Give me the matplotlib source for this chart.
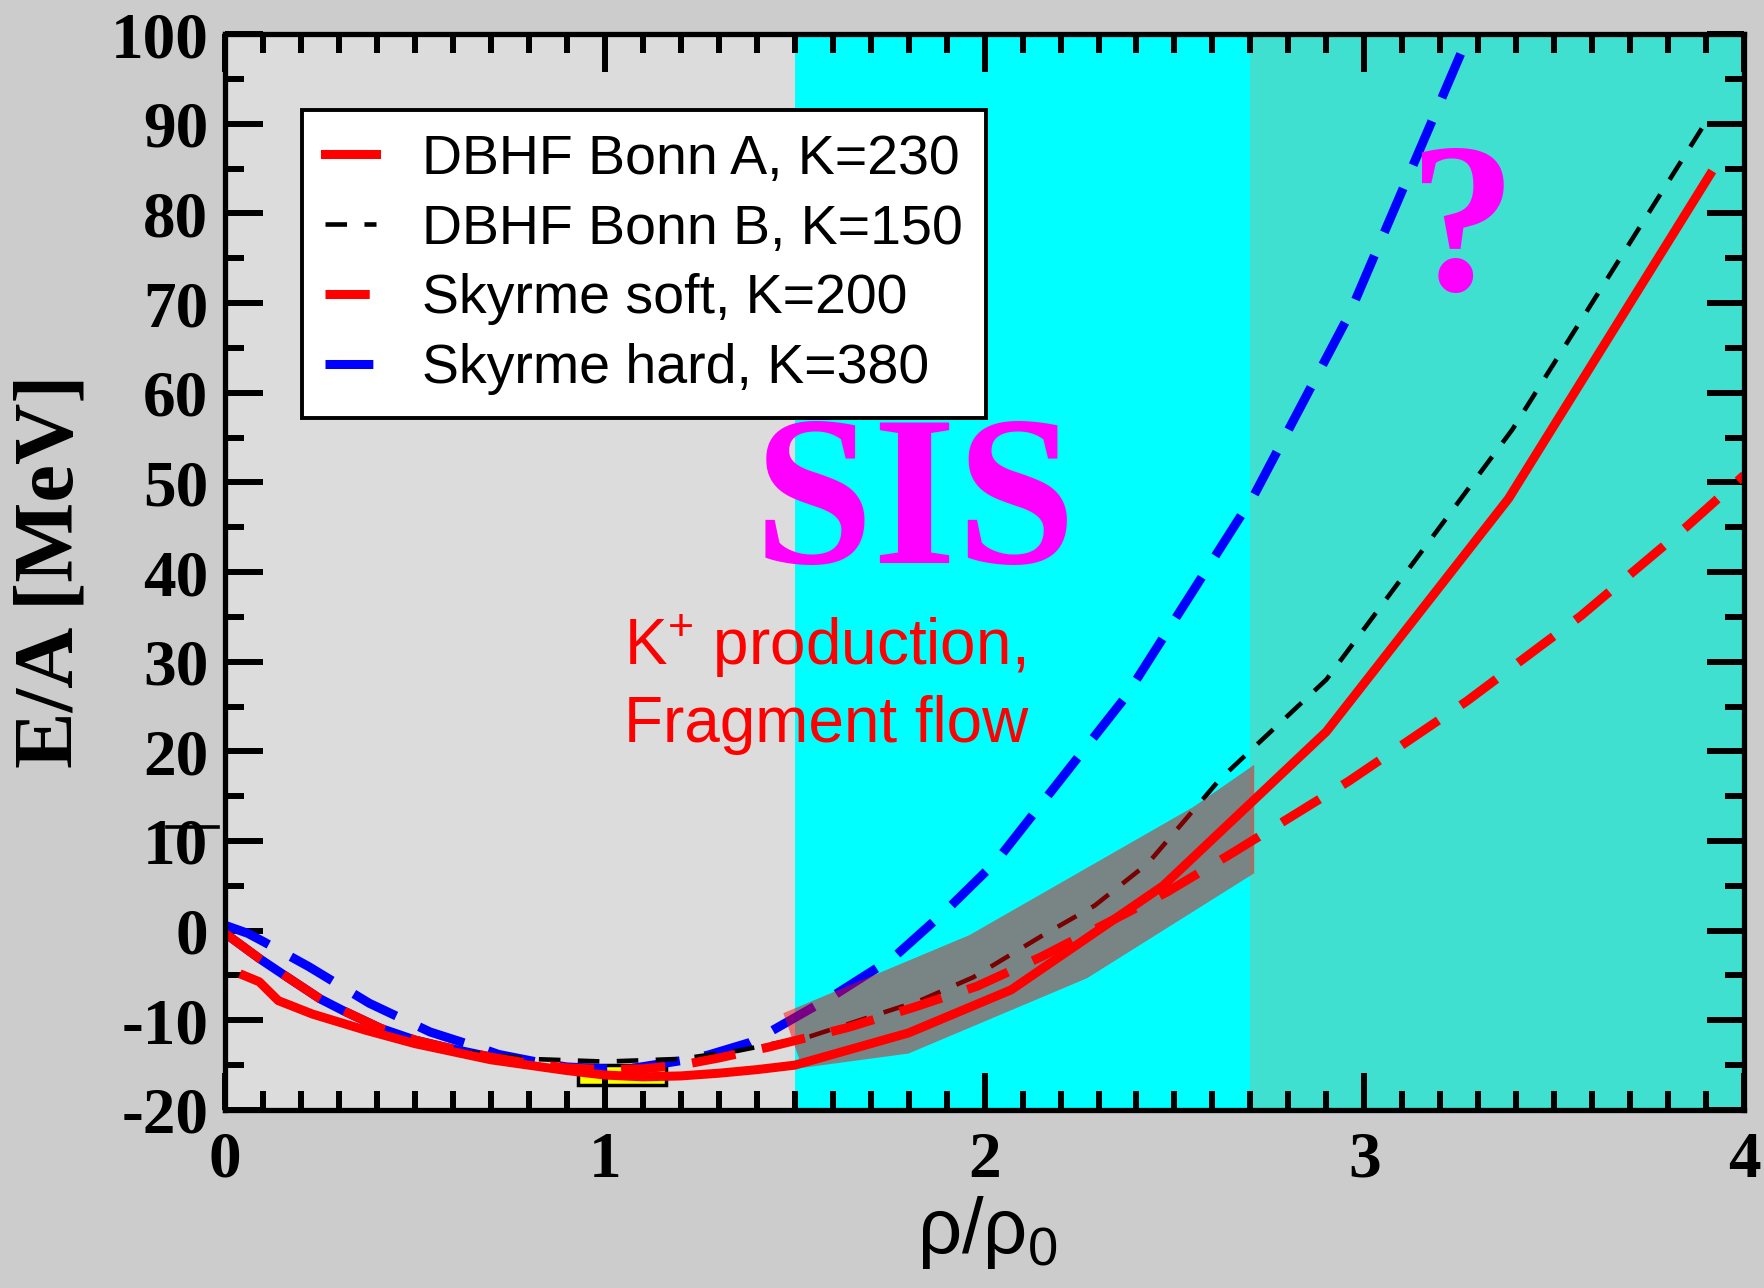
import numpy as np
import matplotlib
matplotlib.use("Agg")
import matplotlib.pyplot as plt
from matplotlib.patches import Rectangle
from matplotlib.lines import Line2D
from matplotlib.ticker import MultipleLocator

# Equation of state of nuclear matter, E/A vs rho/rho0
bonn_a_rho = [0.05, 0.09, 0.14, 0.23, 0.37, 0.5, 0.6, 0.7, 0.8, 0.9, 1.0, 1.1, 1.2, 1.3,
              1.4, 1.5, 1.8, 2.07, 2.47, 2.9, 3.38, 3.91]
bonn_a_ea = [-5.0, -5.7, -7.8, -9.3, -11.1, -12.6, -13.5, -14.4, -15.0, -15.6, -16.1, -16.3,
             -16.2, -15.9, -15.5, -15.0, -11.4, -6.6, 5.0, 22.2, 48.2, 84.3]

bonn_b_rho = [0.05, 0.09, 0.14, 0.23, 0.37, 0.5, 0.6, 0.8, 1.0, 1.2, 1.35, 1.54, 1.83, 1.97,
              2.15, 2.29, 2.43, 2.62, 2.9, 3.39, 3.91]
bonn_b_ea = [-5.0, -5.7, -7.8, -9.3, -11.1, -12.6, -13.4, -14.3, -14.6, -14.3, -13.4, -11.8,
             -7.8, -5.2, -0.6, 2.8, 7.5, 16.9, 28.0, 55.9, 90.9]

soft_rho = [0.0, 0.09, 0.15, 0.25, 0.31, 0.41, 0.5, 0.6, 0.7, 0.8, 0.9, 1.0, 1.1, 1.2, 1.3,
            1.43, 1.64, 1.81, 1.98, 2.15, 2.32, 2.48, 2.65, 2.96, 3.27, 3.57, 3.85, 4.0]
soft_ea = [-0.3, -3.1, -4.8, -7.6, -8.9, -10.9, -12.2, -13.2, -14.1, -14.8, -15.3, -15.5,
           -15.4, -15.0, -14.2, -13.0, -10.8, -8.6, -6.2, -2.9, 0.8, 4.3, 8.6, 16.7, 25.6,
           35.1, 45.1, 50.8]

hard_rho = [0.0, 0.06, 0.1, 0.22, 0.38, 0.54, 0.68, 0.72, 0.84, 0.9, 1.0, 1.08, 1.2, 1.27,
            1.38, 1.43, 1.6, 1.76, 1.9, 2.03, 2.37, 2.71, 2.96, 3.26]
hard_ea = [0.6, -0.3, -1.2, -4.0, -8.1, -11.3, -13.2, -13.8, -14.8, -15.2, -15.4, -15.3,
           -14.5, -13.9, -12.5, -11.4, -7.3, -3.0, 2.3, 7.7, 26.0, 48.6, 68.7, 98.4]

labels = ["DBHF Bonn A, K=230", "DBHF Bonn B, K=150",
          "Skyrme soft, K=200", "Skyrme hard, K=380"]

# constraint band from K+ production / fragment flow
band_up_rho = [1.47, 1.96, 2.55, 2.71]
band_up_ea = [-9.2, -0.5, 13.8, 18.5]
band_lo_rho = [1.52, 1.80, 2.27, 2.71]
band_lo_ea = [-15.3, -13.7, -5.3, 6.4]

# saturation point box
sat_rho = [0.93, 1.16]
sat_ea = [-17.2, -15.0]

# density regions
region_edges = [0.0, 1.5, 2.7, 4.0]

plt.rcParams["axes.unicode_minus"] = False
plt.rcParams["mathtext.fontset"] = "custom"
plt.rcParams["mathtext.rm"] = "Liberation Sans"
plt.rcParams["mathtext.it"] = "Liberation Sans:italic"

fig = plt.figure(figsize=(17.64, 12.88), dpi=100, facecolor="#cccccc")
ax = fig.add_axes([0.1276, 0.1382, 0.8611, 0.8354])
ax.set_facecolor("#dcdcdc")

region_colors = ["#dcdcdc", "#00ffff", "#40e0d0"]
for i in range(3):
    ax.axvspan(region_edges[i], region_edges[i + 1], color=region_colors[i], lw=0, zorder=0)

ax.add_patch(Rectangle((sat_rho[0], sat_ea[0]), sat_rho[1] - sat_rho[0], sat_ea[1] - sat_ea[0],
                       facecolor="yellow", edgecolor="black", lw=2.5, zorder=1))

# blue shows through the gaps of the soft Skyrme curve at low density
n_low = sum(1 for r in soft_rho if r <= 0.7)
ax.plot(soft_rho[:n_low], soft_ea[:n_low], color="blue", lw=6.5, zorder=2)

l_hard, = ax.plot(hard_rho, hard_ea, color="blue", lw=6.5, dashes=(5.3, 2.8), zorder=2)
l_b, = ax.plot(bonn_b_rho, bonn_b_ea, color="black", lw=3.3, dashes=(4.7, 3.8), zorder=2)

band_x = band_up_rho + band_lo_rho[::-1]
band_y = band_up_ea + band_lo_ea[::-1]
ax.fill(band_x, band_y, color="red", alpha=0.48, lw=0, zorder=3)

l_a, = ax.plot(bonn_a_rho, bonn_a_ea, color="red", lw=6.5, zorder=4)
l_soft, = ax.plot(soft_rho, soft_ea, color="red", lw=6.5, dashes=(4.9, 3.0), zorder=4)

ax.set_xlim(0, 4)
ax.set_ylim(-20, 100)
ax.xaxis.set_major_locator(MultipleLocator(1))
ax.xaxis.set_minor_locator(MultipleLocator(0.1))
ax.yaxis.set_major_locator(MultipleLocator(10))
ax.yaxis.set_minor_locator(MultipleLocator(5))
ax.tick_params(which="both", direction="in", top=True, right=True, width=4.3, color="black")
ax.tick_params(which="major", length=27)
ax.tick_params(which="minor", length=14)
ax.tick_params(axis="x", which="major", pad=15, labelsize=47)
ax.tick_params(axis="y", which="major", pad=12, labelsize=47)
for lbl in ax.get_xticklabels() + ax.get_yticklabels():
    lbl.set_fontfamily("Liberation Serif")
    lbl.set_fontweight("bold")
for sp in ax.spines.values():
    sp.set_linewidth(3.8)
    sp.set_zorder(7)

ax.text(1.817, 41.0, "SIS", family="Liberation Serif", weight="bold", fontsize=155,
        color="magenta", ha="center", va="baseline", zorder=5)
ax.text(3.26, 71.4, "?", family="Liberation Serif", weight="bold", fontsize=155,
        color="magenta", ha="center", va="baseline", zorder=5)
ax.text(1.05, 29.6, "K$^{+}$ production,", family="Liberation Sans", fontsize=46,
        color="red", ha="left", va="baseline", zorder=5)
ax.text(1.05, 21.05, "Fragment flow", family="Liberation Sans", fontsize=46,
        color="red", ha="left", va="baseline", zorder=5)

fig.text(0.5595, 35 / 1288, r"ρ/ρ$_0$", family="Liberation Sans", fontsize=56,
         ha="center", va="baseline")
fig.text(0.0295, 0.5567, "E/A [MeV]", family="Liberation Serif", weight="bold",
         fontsize=61, rotation=90, ha="center", va="center")

# stray stroke across the "10" label in the original
fig.add_artist(Line2D([167 / 1764, 218 / 1764], [1 - 826.7 / 1288] * 2, color="black", lw=2.6))

leg = ax.legend([l_a, l_b, l_soft, l_hard], labels, loc="upper left",
                bbox_to_anchor=(0.0504, 0.929), borderaxespad=0,
                prop={"family": "Liberation Sans", "size": 40},
                handlelength=0.92, handletextpad=0.82, borderpad=0.42, labelspacing=0.32,
                fancybox=False, framealpha=1, edgecolor="black", facecolor="white")
leg.get_frame().set_linewidth(2.8)
leg.set_zorder(6)

fig.savefig("out.png", dpi=100, facecolor=fig.get_facecolor())
